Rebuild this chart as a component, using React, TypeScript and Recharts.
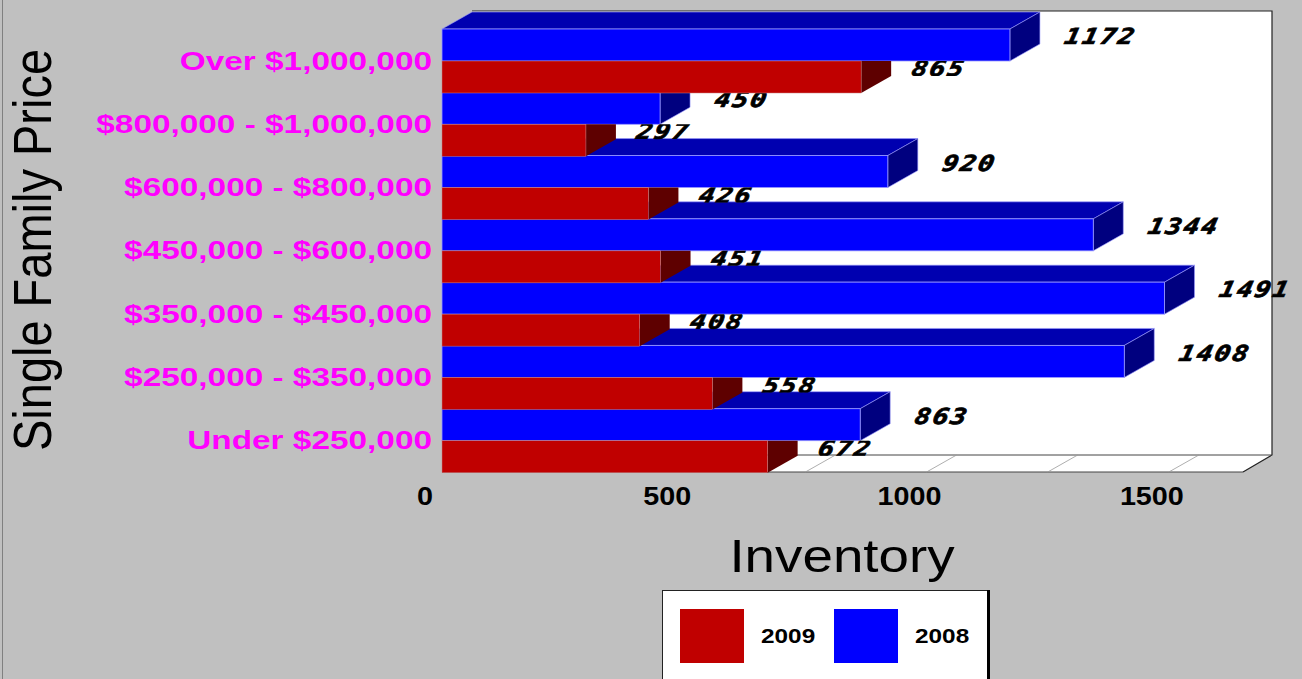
import React from 'react';
import { BarChart, Bar, XAxis, YAxis, ReferenceArea, Legend } from 'recharts';

const categories = ['Over $1,000,000', '$800,000 - $1,000,000', '$600,000 - $800,000', '$450,000 - $600,000', '$350,000 - $450,000', '$250,000 - $350,000', 'Under $250,000'];
const values2008 = [1172, 450, 920, 1344, 1491, 1408, 863];
const values2009 = [865, 297, 426, 451, 408, 558, 672];
const xTicks = [0, 500, 1000, 1500];
const gridValues = [250, 500, 750, 1000, 1250, 1500];
const rows = categories.map((c, i) => ({ category: c, y2008: values2008[i], y2009: values2009[i] }));

const DX = 30;
const DY = 17;
const SANS = '"Liberation Sans", Arial, sans-serif';

const valueText = (x: number, y: number, v: number) => (
  <text transform={`translate(${x},${y}) skewX(-12) scale(1.2,1)`} fontFamily='"DejaVu Sans Mono", monospace' fontWeight="bold" fontStyle="italic" fontSize={22} letterSpacing={1.6} fill="#000" stroke="#000" strokeWidth={0.7} dominantBaseline="central">{v}</text>
);

const BlueBar = (p: any) => {
  const { x, y, width: w, height: h, value } = p;
  const v = Array.isArray(value) ? value[1] : value;
  const e = '#9a9aff';
  return (
    <g>
      <polygon points={`${x},${y} ${x + DX},${y - DY} ${x + w + DX},${y - DY} ${x + w},${y}`} fill="#0000b0" stroke={e} strokeWidth={0.6} />
      <polygon points={`${x + w},${y} ${x + w + DX},${y - DY} ${x + w + DX},${y + h - DY} ${x + w},${y + h}`} fill="#00007f" stroke={e} strokeWidth={0.6} />
      <rect x={x} y={y} width={w} height={h} fill="#0000ff" stroke={e} strokeWidth={0.8} />
      {valueText(x + w + DX + 25, y + h / 2 - DY / 2, v)}
    </g>
  );
};

const RedBar = (p: any) => {
  const { x, y, width: w, height: h, value, index } = p;
  const v = Array.isArray(value) ? value[1] : value;
  const id = `clip-red-${index}`;
  return (
    <g>
      <clipPath id={id}><rect x={x + w} y={y} width={200} height={h - DY} /></clipPath>
      <polygon points={`${x + w},${y} ${x + w + DX},${y} ${x + w + DX},${y + h - DY} ${x + w},${y + h}`} fill="#5e0000" />
      <rect x={x} y={y} width={w} height={h} fill="#c00000" stroke="#c88080" strokeWidth={0.5} />
      <g clipPath={`url(#${id})`}>{valueText(x + w + DX + 21, y + h / 2 - DY / 2, v)}</g>
    </g>
  );
};

const Wall = (p: any) => {
  const { x, y, width: w, height: h } = p;
  const b = y + h;
  const r = x + w;
  return (
    <g>
      <polygon points={`${x},${b} ${x + DX},${b - DY} ${x + DX},${y - DY - 1} ${r + DX - 1},${y - DY - 1} ${r + DX - 1},${b - DY} ${r},${b}`} fill="#fff" />
      <polyline points={`${x + DX},${y - DY - 1} ${r + DX - 1},${y - DY - 1} ${r + DX - 1},${b - DY} ${r},${b}`} fill="none" stroke="#222" strokeWidth={1.2} />
      <line x1={x + DX} y1={b - DY} x2={r + DX - 1} y2={b - DY} stroke="#444" strokeWidth={1} />
      <line x1={x} y1={b} x2={r} y2={b} stroke="#444" strokeWidth={1} />
    </g>
  );
};

const FloorLine = (p: any) => (
  <line x1={p.x} y1={p.y + p.height} x2={p.x + DX} y2={p.y + p.height - DY} stroke="#999" strokeWidth={0.8} />
);

const XTick = (p: any) => (
  <text transform={`translate(${p.x - 17},${p.y + 17}) scale(1.15,1)`} textAnchor="middle" dominantBaseline="central" fontFamily={SANS} fontWeight="bold" fontSize={25} fill="#000">{p.payload.value}</text>
);

const YTick = (p: any) => (
  <text transform={`translate(432,${p.y}) scale(1.335,1)`} textAnchor="end" dominantBaseline="central" fontFamily={SANS} fontWeight="bold" fontSize={25} fill="#ff00ff">{p.payload.value}</text>
);

const XTitle = () => (
  <text transform="translate(842,572) scale(1.165,1)" textAnchor="middle" fontFamily={SANS} fontSize={47} fill="#000">Inventory</text>
);

const YTitle = () => (
  <text transform="translate(51,250) rotate(-90) scale(1,1.15)" textAnchor="middle" fontFamily={SANS} fontSize={47} fill="#000">Single Family Price</text>
);

const LegendBox = (p: any) => {
  const items = [...(p.payload || [])].sort((a: any, b: any) => String(b.value).localeCompare(String(a.value)));
  return (
    <div style={{ position: 'relative', width: 325, height: 92, background: '#fff', borderTop: '1px solid #222', borderLeft: '1px solid #222', boxShadow: '3px 0 0 #000', boxSizing: 'border-box' }}>
      {items.map((it: any, i: number) => (
        <div key={it.value} style={{ position: 'absolute', left: i === 0 ? 17 : 171, top: 18, display: 'flex', alignItems: 'center' }}>
          <div style={{ width: 64, height: 54, background: it.color }} />
          <span style={{ marginLeft: 17, fontFamily: SANS, fontWeight: 'bold', fontSize: 21, transform: 'scale(1.16,1)', transformOrigin: 'left center', color: '#000', display: 'inline-block' }}>{it.value}</span>
        </div>
      ))}
    </div>
  );
};

export default function App() {
  return (
    <div style={{ position: 'fixed', left: 0, top: 0, width: 1302, height: 679, overflow: 'hidden', background: '#c0c0c0' }}>
      <div style={{ position: 'absolute', left: 2, top: 0, width: 1, height: 679, background: '#808080' }} />
      <BarChart width={1302} height={679} data={rows} layout="vertical" barCategoryGap={0} barGap={0} margin={{ top: 29, right: 59, bottom: 0, left: 0 }}>
        <ReferenceArea x1={0} x2={1653} ifOverflow="visible" shape={<Wall />} />
        {gridValues.map((g) => (
          <ReferenceArea key={g} x1={g} x2={g} ifOverflow="visible" shape={<FloorLine />} />
        ))}
        <XAxis type="number" domain={[0, 1653]} ticks={xTicks} tick={<XTick />} axisLine={false} tickLine={false} height={207} interval={0} label={<XTitle />} />
        <YAxis type="category" dataKey="category" width={442} tick={<YTick />} axisLine={false} tickLine={false} interval={0} label={<YTitle />} />
        <Bar dataKey="y2008" name="2008" fill="#0000ff" shape={<BlueBar />} isAnimationActive={false} />
        <Bar dataKey="y2009" name="2009" fill="#c00000" shape={<RedBar />} isAnimationActive={false} />
        <Legend layout="horizontal" verticalAlign="middle" align="center" content={<LegendBox />} wrapperStyle={{ position: 'absolute', left: 662, top: 590, width: 328, height: 92, margin: 0 }} />
      </BarChart>
    </div>
  );
}
